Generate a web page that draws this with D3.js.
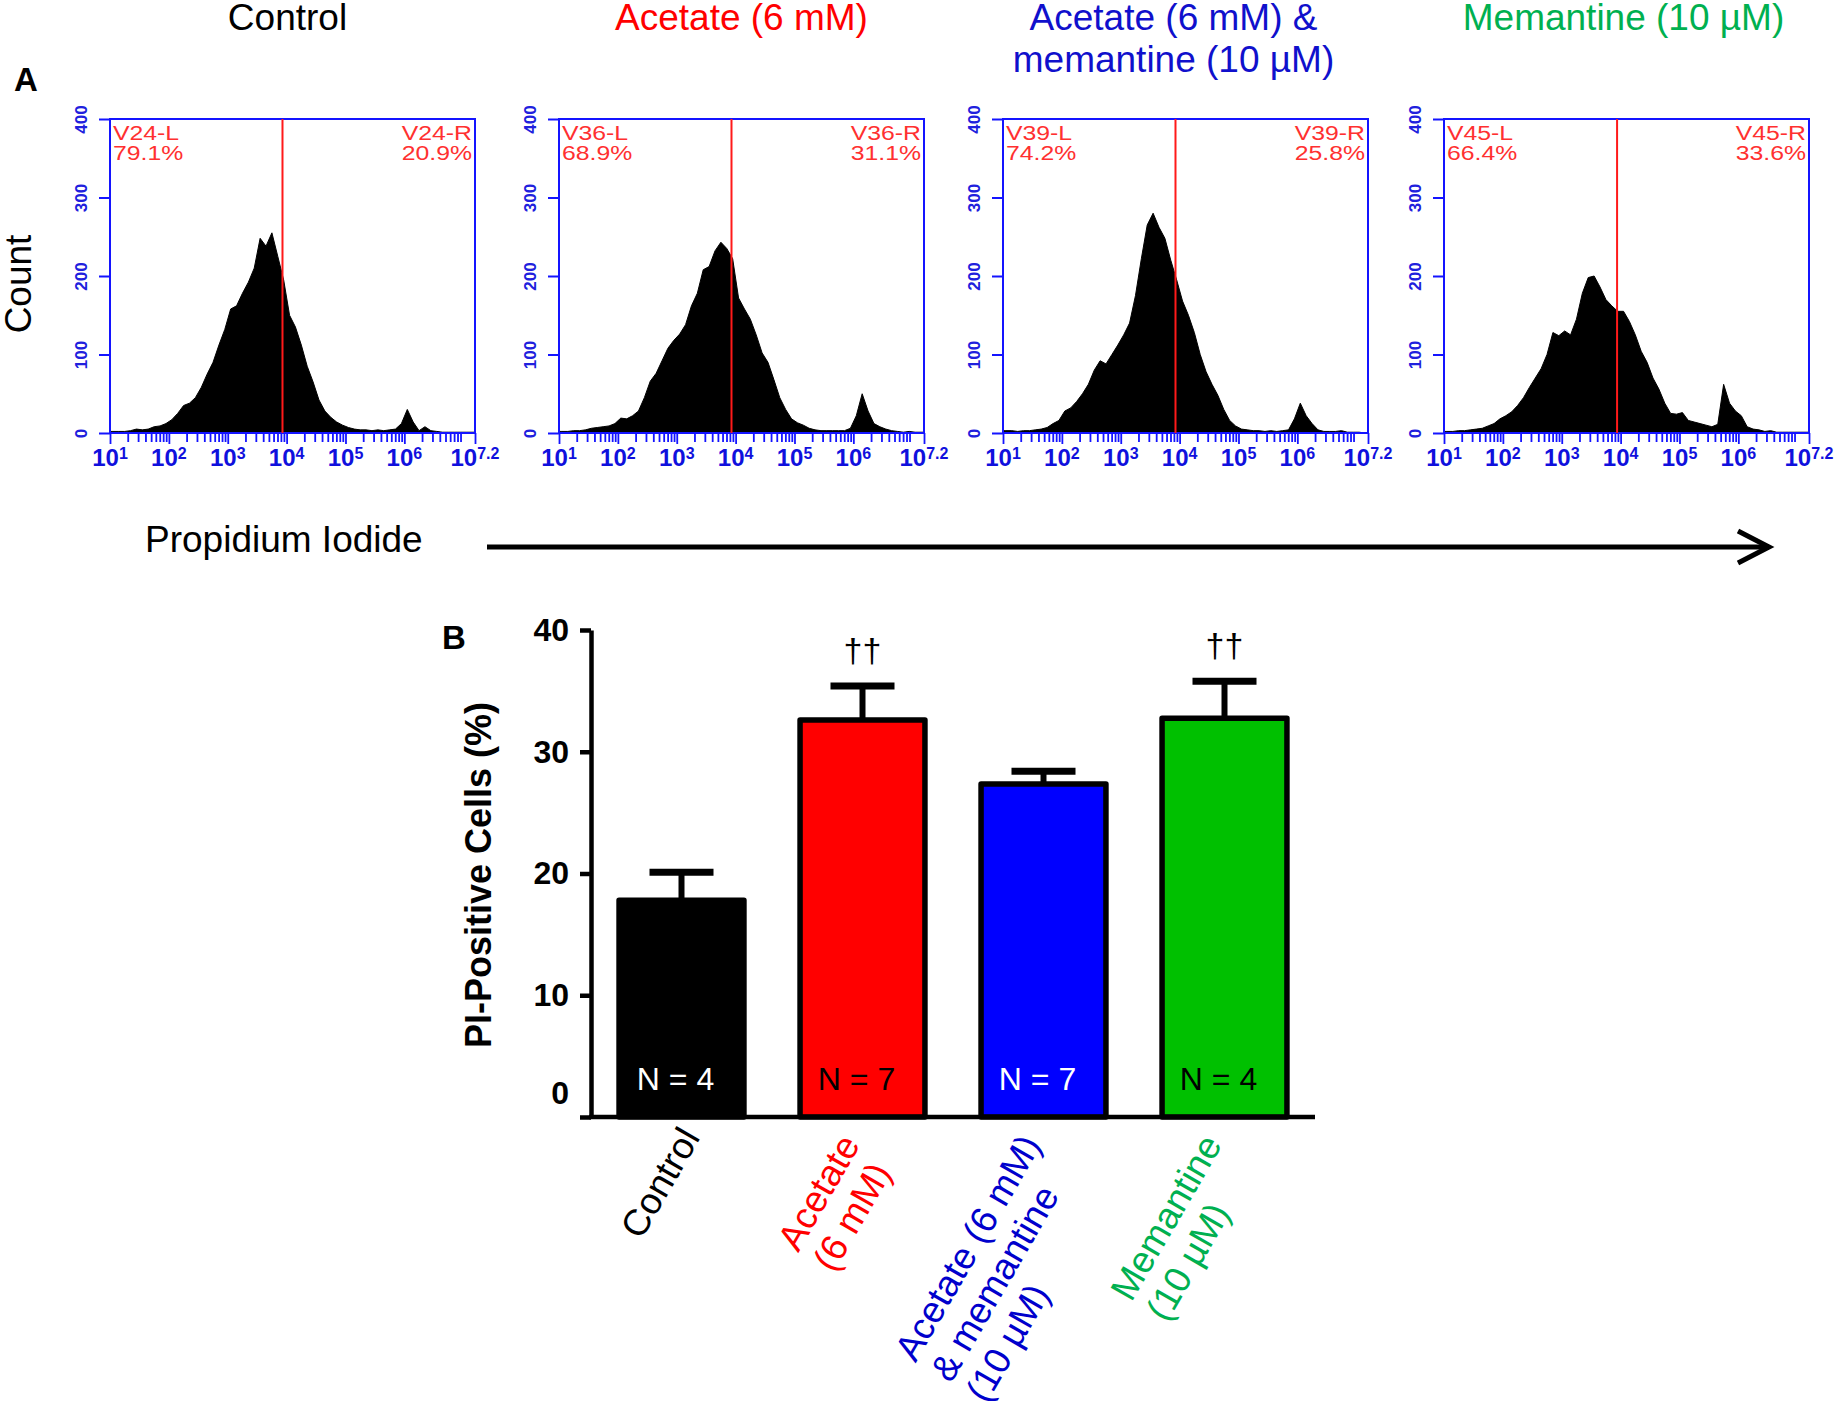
<!DOCTYPE html>
<html><head><meta charset="utf-8">
<script src="https://cdn.jsdelivr.net/npm/d3@7"></script>
<style>
html,body{margin:0;padding:0;background:#fff;}
svg{display:block;font-family:"Liberation Sans",Arial,Helvetica,sans-serif;}
</style></head>
<body><svg id="chart" width="1840" height="1401"></svg>
<script>
// ---------------- DATA ----------------
// Panel A: flow cytometry histograms (counts per 0.1-decade channel, 10^1 .. 10^7.2)
const panelTitles = [["Control"], ["Acetate (6 mM)"], ["Acetate (6 mM) &", "memantine (10 µM)"], ["Memantine (10 µM)"]];
const panelTitleColors = ["#000000", "#ff0000", "#1010cc", "#00b050"];
const gateNames = ["V24", "V36", "V39", "V45"];
const gateLeftPct = ["79.1%", "68.9%", "74.2%", "66.4%"];
const gateRightPct = ["20.9%", "31.1%", "25.8%", "33.6%"];
const gateLog10 = [3.93, 3.93, 3.93, 3.94];
const countTicks = [0, 100, 200, 300, 400];
const decadeExponents = ["1", "2", "3", "4", "5", "6", "7.2"];

const histControl = [2,2,2,3,5,4,5,8,9,12, 17,25,35,38,45,58,75,90,112,132, 158,162,178,192,210,248,238,255,225,195,
  150,135,112,85,65,42,28,20,14,10, 7,5,4,4,3,4,3,4,5,12, 30,14,3,8,3,2,1,1,1,1, 1,1];
const histAcetate = [2,2,3,3,4,6,7,8,9,12, 19,18,22,28,45,66,76,92,108,118, 126,138,162,178,208,212,232,243,235,222,
  172,158,145,125,102,90,68,45,30,18, 13,10,6,4,3,3,3,3,3,6, 22,50,28,12,8,5,3,2,1,2, 1,1];
const histCombo = [3,3,2,3,3,4,5,7,12,16, 28,32,40,50,62,80,92,88,100,112, 125,140,175,222,265,280,262,248,220,195,
  168,150,128,100,78,62,48,30,16,9, 5,4,3,3,2,3,2,3,4,18, 38,22,12,4,2,2,2,3,1,1, 1,0];
const histMemantine = [2,2,3,3,4,5,6,9,12,18, 22,27,35,45,58,70,82,100,128,124, 130,125,145,178,198,200,186,170,162,155,
  155,142,125,104,90,70,56,38,25,24, 26,16,14,12,10,8,11,62,38,28, 22,8,5,4,2,3,1,1,1,1, 1,1];
const histograms = [histControl, histAcetate, histCombo, histMemantine];

// Panel B: PI-positive cells
const groups = ["Control", "Acetate (6 mM)", "Acetate (6 mM) & memantine (10 µM)", "Memantine (10 µM)"];
const groupLabelLines = [["Control"], ["Acetate", "(6 mM)"], ["Acetate (6 mM)", "& memantine", "(10 µM)"], ["Memantine", "(10 µM)"]];
const piMean = [17.8, 32.6, 27.35, 32.75];
const piSEM = [2.3, 2.8, 1.05, 3.05];
const nLabels = ["N = 4", "N = 7", "N = 7", "N = 4"];
const sigMarks = ["", "††", "", "††"];
const piTicks = [0, 10, 20, 30, 40];
const barFill = ["#000000", "#ff0000", "#0000ff", "#00c000"];
const labelColor = ["#000000", "#ff0000", "#0000cc", "#00b050"];
const nColor = ["#ffffff", "#000000", "#ffffff", "#000000"];

// ---------------- LAYOUT ----------------
const svg = d3.select("#chart");
const BLUE = "#1414ff";
const histLefts = [110, 559, 1003, 1444];
const histW = 365, histTop = 119, histBottom = 433;
const titleShift = [-5, 0, -12, -3];

// Panel letter A
svg.append("text").attr("x", 14).attr("y", 91).attr("font-size", 33).attr("font-weight", "bold").text("A");
// Count label
svg.append("text").attr("transform", "translate(31,284) rotate(-90)").attr("text-anchor", "middle")
  .attr("font-size", 37).text("Count");

histograms.forEach((bins, p) => {
  const left = histLefts[p], right = left + histW;
  const x = d3.scaleLog().domain([10, Math.pow(10, 7.2)]).range([left, right]);
  const y = d3.scaleLinear().domain([0, 400]).range([histBottom, histTop]);
  const g = svg.append("g");

  // title
  const cx = (left + right) / 2 + titleShift[p];
  panelTitles[p].forEach((t, i) => {
    svg.append("text").attr("x", cx).attr("y", 30 + 42 * i).attr("text-anchor", "middle")
      .attr("font-size", 37).attr("fill", panelTitleColors[p]).text(t);
  });

  // histogram area (channel centres)
  const pts = [{ e: 10, v: bins[0] }]
    .concat(bins.map((v, i) => ({ e: Math.pow(10, 1.05 + 0.1 * i), v })))
    .concat([{ e: Math.pow(10, 7.2), v: bins[bins.length - 1] }]);
  const area = d3.area().curve(d3.curveLinear).x(d => x(d.e)).y0(y(0)).y1(d => y(d.v));
  g.append("path").datum(pts).attr("d", area).attr("fill", "#000")
    .attr("stroke", "#000").attr("stroke-width", 1).attr("stroke-linejoin", "bevel");

  // frame
  g.append("rect").attr("x", left).attr("y", histTop).attr("width", histW).attr("height", histBottom - histTop)
    .attr("fill", "none").attr("stroke", BLUE).attr("stroke-width", 2);

  // minor / major x ticks
  const minor = [];
  for (let d = 1; d <= 7; d++) for (let k = 2; k <= 9; k++) { const v = k * Math.pow(10, d); if (Math.log10(v) < 7.2) minor.push(v); }
  const major = decadeExponents.map(e => Math.pow(10, +e));
  const axMinor = g.append("g").attr("transform", `translate(0,${histBottom})`)
    .call(d3.axisBottom(x).tickValues(minor).tickSize(9).tickFormat(() => ""));
  const axMajor = g.append("g").attr("transform", `translate(0,${histBottom})`)
    .call(d3.axisBottom(x).tickValues(major).tickSize(11).tickFormat(() => ""));
  [axMinor, axMajor].forEach(a => {
    a.select(".domain").remove();
    a.selectAll("line").attr("stroke", BLUE).attr("stroke-width", 1.8);
  });
  // decade labels
  decadeExponents.forEach(e => {
    const t = g.append("text").attr("x", x(Math.pow(10, +e))).attr("y", histBottom + 33).attr("text-anchor", "middle")
      .attr("font-size", 24).attr("font-weight", "bold").attr("fill", "#1010dd");
    t.append("tspan").text("10");
    t.append("tspan").attr("font-size", 16).attr("dy", -7).text(e);
  });

  // y axis
  const ay = g.append("g").attr("transform", `translate(${left},0)`)
    .call(d3.axisLeft(y).tickValues(countTicks).tickSize(11).tickFormat(d3.format("d")));
  ay.select(".domain").remove();
  ay.selectAll("line").attr("stroke", BLUE).attr("stroke-width", 2);
  ay.selectAll("text").attr("x", 0).attr("y", 0).attr("dy", 0)
    .attr("transform", "translate(-23,0) rotate(-90)").attr("text-anchor", "middle")
    .attr("font-size", 17).attr("font-weight", "bold").attr("fill", "#2020dd");

  // gate
  const gx = x(Math.pow(10, gateLog10[p]));
  g.append("line").attr("x1", gx).attr("x2", gx).attr("y1", histTop).attr("y2", y(0))
    .attr("stroke", "#ff1a1a").attr("stroke-width", 2);
  const gl = [[gateNames[p] + "-L", gateLeftPct[p]], [gateNames[p] + "-R", gateRightPct[p]]];
  gl.forEach((lines, side) => {
    lines.forEach((t, i) => {
      const tx = side === 0 ? left + 3 : right - 3;
      g.append("text").attr("transform", `translate(${tx},${140 + 20 * i}) scale(1.18,1)`)
        .attr("text-anchor", side === 0 ? "start" : "end")
        .attr("font-size", 21).attr("fill", "#ff3030").text(t);
    });
  });
});

// Propidium iodide + arrow
svg.append("text").attr("x", 145).attr("y", 552).attr("font-size", 37).text("Propidium Iodide");
svg.append("line").attr("x1", 487).attr("x2", 1766).attr("y1", 547).attr("y2", 547)
  .attr("stroke", "#000").attr("stroke-width", 5);
svg.append("polyline").attr("points", "1738,531 1769,547 1738,563").attr("fill", "none")
  .attr("stroke", "#000").attr("stroke-width", 5).attr("stroke-linejoin", "miter");

// ---------------- PANEL B ----------------
const xB = d3.scaleBand().domain(groups).range([591, 1315]).paddingInner(0.31).paddingOuter(0.155);
const yB = d3.scaleLinear().domain([0, 40]).range([1117, 630]);

svg.append("text").attr("x", 442).attr("y", 649).attr("font-size", 33).attr("font-weight", "bold").text("B");
svg.append("text").attr("transform", "translate(491,875) rotate(-90)").attr("text-anchor", "middle")
  .attr("font-size", 36).attr("font-weight", "bold").text("PI-Positive Cells (%)");

// bars
const bw = xB.bandwidth();
groups.forEach((gname, i) => {
  const bx = xB(gname), cx = bx + bw / 2;
  const top = yB(piMean[i] + piSEM[i]);
  svg.append("line").attr("x1", cx).attr("x2", cx).attr("y1", yB(piMean[i])).attr("y2", top)
    .attr("stroke", "#000").attr("stroke-width", 6);
  svg.append("line").attr("x1", cx - 32).attr("x2", cx + 32).attr("y1", top).attr("y2", top)
    .attr("stroke", "#000").attr("stroke-width", 7);
  svg.append("rect").attr("x", bx).attr("y", yB(piMean[i])).attr("width", bw).attr("height", yB(0) - yB(piMean[i]))
    .attr("fill", barFill[i]).attr("stroke", "#000").attr("stroke-width", 5.5).attr("stroke-linejoin", "round");
  svg.append("text").attr("x", cx - 6).attr("y", 1090).attr("text-anchor", "middle").attr("font-size", 32)
    .attr("fill", nColor[i]).text(nLabels[i]);
  if (sigMarks[i]) {
    svg.append("text").attr("x", cx).attr("y", top - 24).attr("text-anchor", "middle").attr("font-size", 34)
      .text(sigMarks[i]);
  }
});

// axes
const axY = svg.append("g").attr("transform", "translate(591,0)")
  .call(d3.axisLeft(yB).tickValues(piTicks).tickSize(11).tickSizeOuter(0).tickPadding(11));
axY.select(".domain").attr("stroke-width", 4.5);
axY.selectAll("line").attr("stroke-width", 4.5);
axY.selectAll("text").attr("font-size", 32).attr("font-weight", "bold").attr("fill", "#000")
  .attr("font-family", "'Liberation Sans',Arial,sans-serif");
axY.selectAll(".tick").filter(d => d === 0).select("text").attr("transform", "translate(0,-24)");

const axX = svg.append("g").attr("transform", "translate(0,1117)")
  .call(d3.axisBottom(xB).tickSize(0).tickSizeOuter(0).tickFormat(() => ""));
axX.select(".domain").attr("stroke-width", 4.5).attr("d", "M589,0H1315");

// rotated group labels (anchored at the top-right of the first line)
const labelAngle = 60;
groupLabelLines.forEach((lines, i) => {
  const n = lines.length;
  const cx = xB(groups[i]) + bw / 2;
  const ax = cx - 4 - (n > 1 ? 21 : 0);
  const ay = 1124 + (n > 1 ? 7 : 0);
  const g = svg.append("g").attr("transform", `translate(${ax},${ay}) rotate(${-labelAngle})`)
    .attr("font-size", 37).attr("fill", labelColor[i]);
  const first = g.append("text").attr("text-anchor", "end").attr("x", 0).attr("y", 27).text(lines[0]);
  const w = first.node().getComputedTextLength();
  lines.slice(1).forEach((ln, j) => {
    g.append("text").attr("text-anchor", "start").attr("x", -w).attr("y", 27 + 41 * (j + 1)).text(ln);
  });
});
</script>
</body></html>
